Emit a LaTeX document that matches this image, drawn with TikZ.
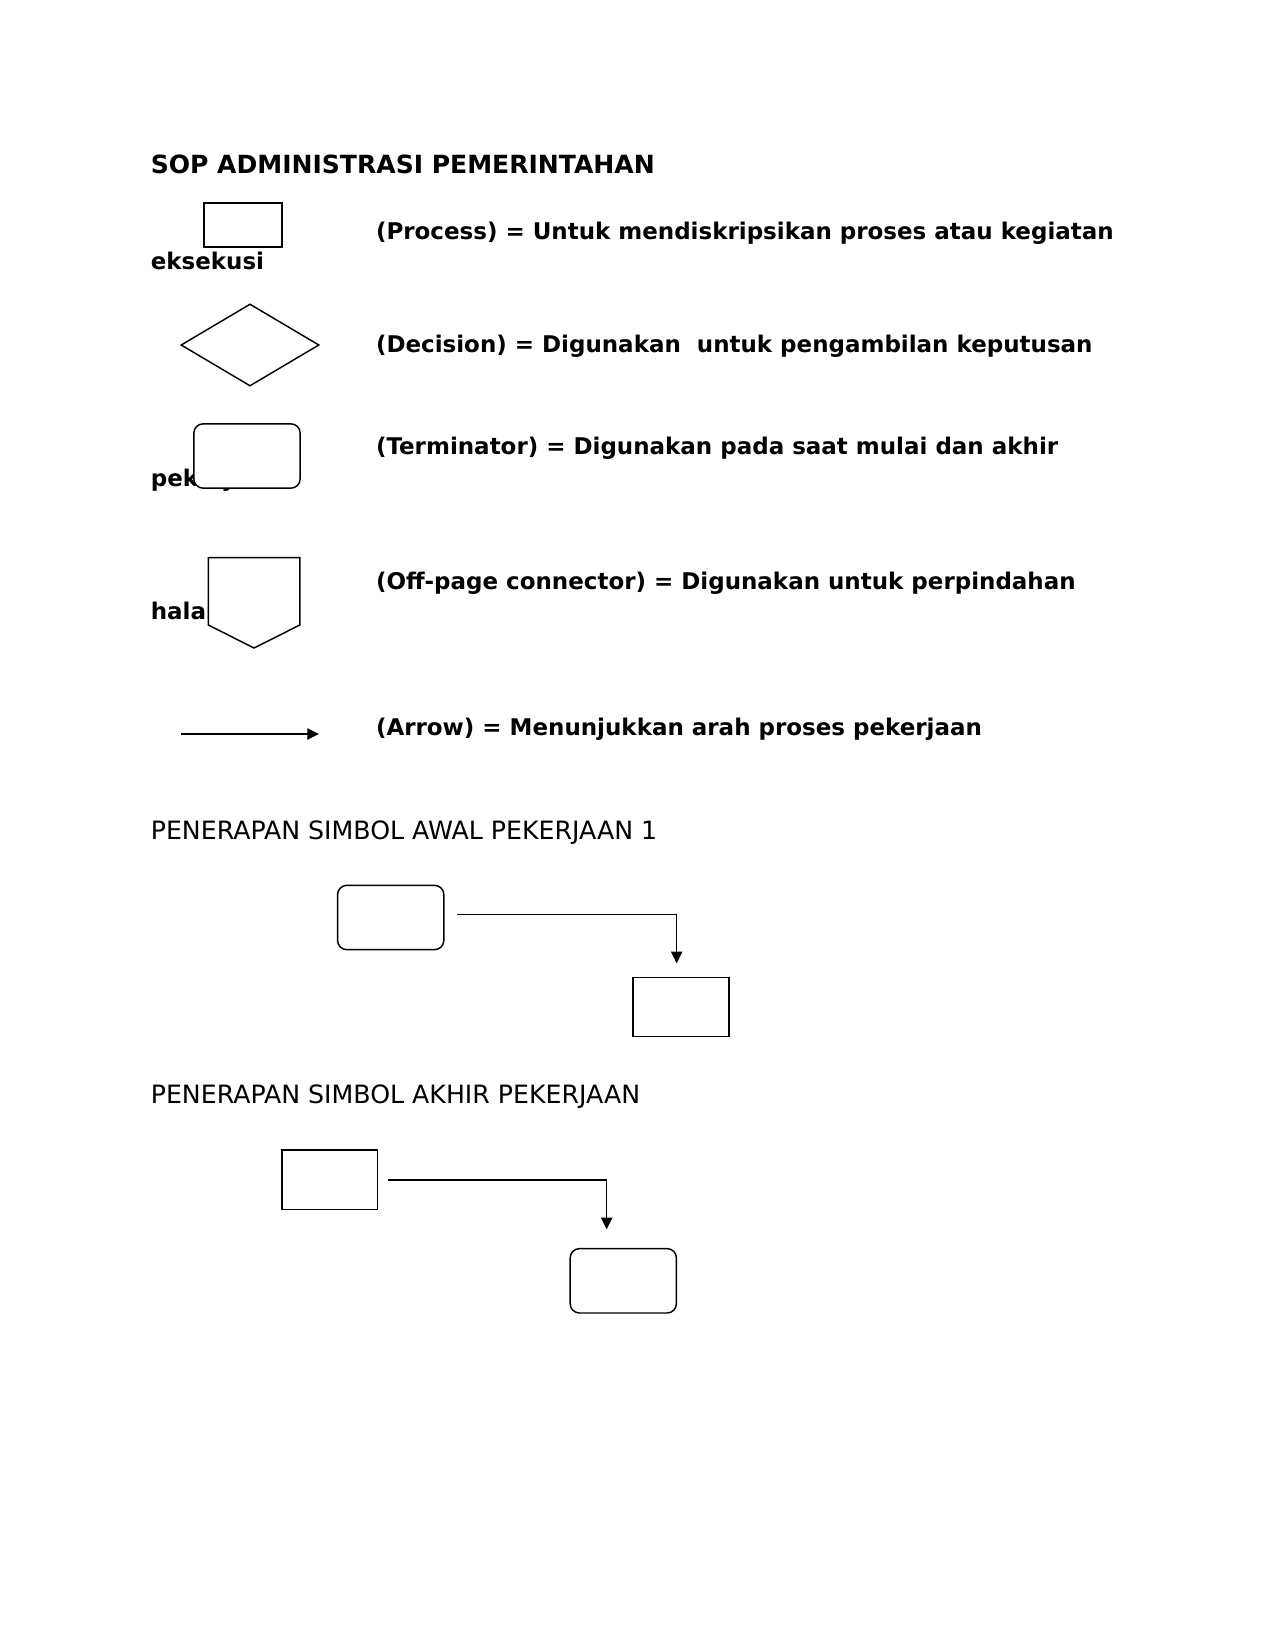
\documentclass[tikz,border=0pt]{standalone}
\usepackage{fontspec}
\setmainfont{DejaVu Sans}
\usetikzlibrary{shapes.geometric, arrows.meta, positioning}

\tikzset{
  symline/.style={draw=black, line width=0.7pt},
  procbox/.style={symline, rectangle, fill=white, inner sep=0pt},
  termbox/.style={symline, rectangle, rounded corners=4.5pt, fill=white, inner sep=0pt,
                  minimum width=18mm, minimum height=10.9mm},
  decbox/.style={symline, diamond, fill=white, inner sep=0pt,
                 minimum width=23.4mm, minimum height=13.9mm},
  flowarrow/.style={line width=0.7pt, -{Triangle[length=5.6pt,width=5.4pt]}},
  legtext/.style={anchor=base west, inner sep=0pt, font=\fontsize{11.07}{13}\selectfont\bfseries},
  headtext/.style={anchor=base west, inner sep=0pt, font=\fontsize{12.15}{14}\selectfont},
}

\begin{document}
\begin{tikzpicture}[x=0.16933mm, y=-0.16933mm]
  \useasboundingbox (0,0) rectangle (1275,1650);

  % judul
  \node[headtext, font=\fontsize{12.07}{14}\selectfont\bfseries] (judul) at (150.4,173) {SOP ADMINISTRASI PEMERINTAHAN};

  % keterangan simbol
  \node[legtext] (ketproses) at (375.6,239) {(Process) = Untuk mendiskripsikan proses atau kegiatan};
  \node[legtext] (ketproses2) at (150.4,269.5) {eksekusi};
  \node[legtext] (ketkeputusan) at (375.6,352) {(Decision) = Digunakan\ \ untuk pengambilan keputusan};
  \node[legtext] (ketterminator) at (375.6,454.5) {(Terminator) = Digunakan pada saat mulai dan akhir};
  \node[legtext] (ketterminator2) at (150.4,486) {pekerjaan};
  \node[legtext] (ketoffpage) at (375.6,589) {(Off-page connector) = Digunakan untuk perpindahan};
  \node[legtext] (ketoffpage2) at (150.4,619.6) {halaman};
  \node[legtext] (ketpanah) at (375.6,735) {(Arrow) = Menunjukkan arah proses pekerjaan};

  % simbol
  \node[procbox, minimum width=13.2mm, minimum height=7.45mm] (simproses) at (243,225) {};
  \node[decbox] (simkeputusan) at (250,345) {};
  \node[termbox] (simterminator) at (247,456) {};
  \draw[symline, fill=white] (208.3,557.6) -- (299.8,557.6) -- (299.8,625)
        -- (254,648) -- (208.3,625) -- cycle;
  \coordinate (panahawal) at (181,734);
  \coordinate (panahakhir) at (319,734);
  \draw[flowarrow] (panahawal) -- (panahakhir);

  % penerapan awal
  \node[headtext] (judulawal) at (150.4,839.5) {PENERAPAN SIMBOL AWAL PEKERJAAN 1};
  \node[termbox] (mulai) at (390.7,917.5) {};
  \node[procbox, minimum width=16.3mm, minimum height=10mm] (proses1) at (681,1007.2) {};
  \coordinate (keluar1) at (457,914.3);
  \coordinate (masuk1) at (676.7,963.3);
  \draw[flowarrow] (keluar1) -| (masuk1);

  % penerapan akhir
  \node[headtext] (judulakhir) at (150.4,1103.5) {PENERAPAN SIMBOL AKHIR PEKERJAAN};
  \node[procbox, minimum width=16.2mm, minimum height=10mm] (proses2) at (329.7,1179.7) {};
  \node[termbox] (selesai) at (623.3,1280.8) {};
  \coordinate (keluar2) at (387.7,1180);
  \coordinate (masuk2) at (606.7,1229.3);
  \draw[flowarrow] (keluar2) -| (masuk2);
\end{tikzpicture}
\end{document}
